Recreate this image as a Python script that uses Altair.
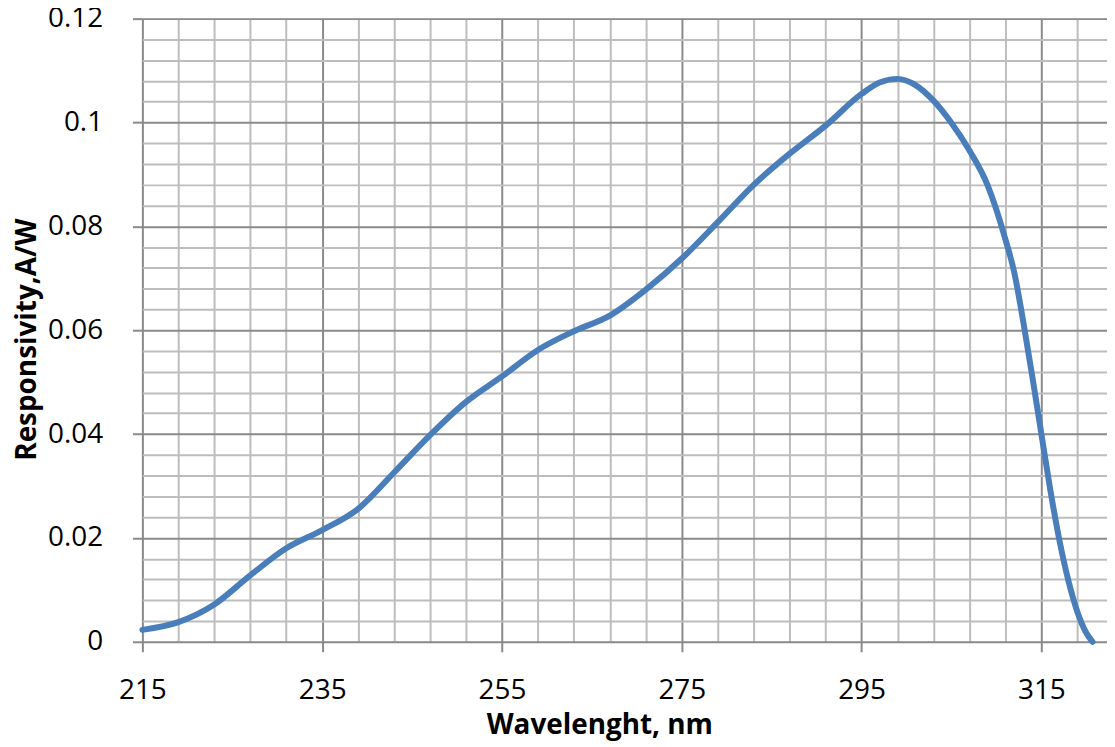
import altair as alt
import pandas as pd

wavelength = [215, 219, 223, 227, 231, 235, 239, 243, 247, 251, 255, 259, 263, 267, 271, 275,
              279, 283, 287, 291, 295, 297, 299, 301, 303, 305, 307, 309, 311, 312, 313, 314,
              315, 316, 317, 318, 319, 320, 320.7]
responsivity = [0.0023, 0.0038, 0.0072, 0.0128, 0.0180, 0.0215, 0.0256, 0.0326, 0.0398, 0.0462,
                0.0511, 0.0562, 0.0598, 0.0628, 0.0678, 0.0738, 0.0808, 0.0880, 0.0940, 0.0994,
                0.1055, 0.1077, 0.1084, 0.1072, 0.1042, 0.0999, 0.0946, 0.0880, 0.0775, 0.0710,
                0.0615, 0.0510, 0.0400, 0.0292, 0.0196, 0.0118, 0.0058, 0.0017, 0.0]

x_ticks = list(range(215, 320, 4))
y_ticks = [round(i * 0.004, 3) for i in range(31)]

df = pd.DataFrame({"wl": wavelength, "r": responsivity})

MAJOR = "#8a8a8a"
MINOR = "#bdbdbd"
FONT = "Open Sans"

x_major = "(datum.value - 215) % 20 === 0"
y_major = "abs(datum.value * 50 - round(datum.value * 50)) < 1e-6"

x_axis = alt.Axis(
    values=x_ticks,
    labelExpr=f"{x_major} ? datum.label : ''",
    labelOverlap=False,
    labelFont=FONT, labelFontSize=28, labelColor="black", labelPadding=25,
    labelFlush=False,
    domain=False,
    grid=True, gridWidth=2,
    gridColor={"condition": {"test": x_major, "value": MAJOR}, "value": MINOR},
    ticks=True, tickSize=10, tickWidth=2, tickColor=MAJOR,
    tickOpacity={"condition": {"test": x_major, "value": 1}, "value": 0},
    title="Wavelenght, nm", titleFont=FONT, titleFontSize=28, titleFontWeight="bold",
    titleColor="black", titleX=459, titleY=70, titleBaseline="top", titleAlign="center",
)

y_axis = alt.Axis(
    values=y_ticks,
    labelExpr=f"{y_major} ? toString(round(datum.value * 100) / 100) : ''",
    labelOverlap=False,
    labelFont=FONT, labelFontSize=28, labelColor="black", labelPadding=30,
    labelFlush=False,
    domain=False,
    grid=True, gridWidth=2,
    gridColor={"condition": {"test": y_major, "value": MAJOR}, "value": MINOR},
    ticks=True, tickSize=10, tickWidth=2, tickColor=MAJOR,
    tickOpacity={"condition": {"test": y_major, "value": 1}, "value": 0},
    title="Responsivity,A/W", titleFont=FONT, titleFontSize=28, titleFontWeight="bold",
    titleColor="black", titleX=-115, titleY=322, titleBaseline="middle", titleAlign="center",
    titleAngle=270,
)

chart = alt.Chart(df).mark_line(
    color="#4a7ebb", strokeWidth=6, interpolate="monotone", strokeCap="round"
).encode(
    x=alt.X("wl:Q", scale=alt.Scale(domain=[215, 322.3], nice=False, zero=False), axis=x_axis),
    y=alt.Y("r:Q", scale=alt.Scale(domain=[0, 0.12], nice=False), axis=y_axis),
).properties(
    width=969, height=626,
    autosize="none",
    padding={"left": 135, "top": 9, "right": 0, "bottom": 103},
).configure_view(stroke=None).configure(background="white")

chart.save("out.html", embed_options={"renderer": "svg", "actions": False})
